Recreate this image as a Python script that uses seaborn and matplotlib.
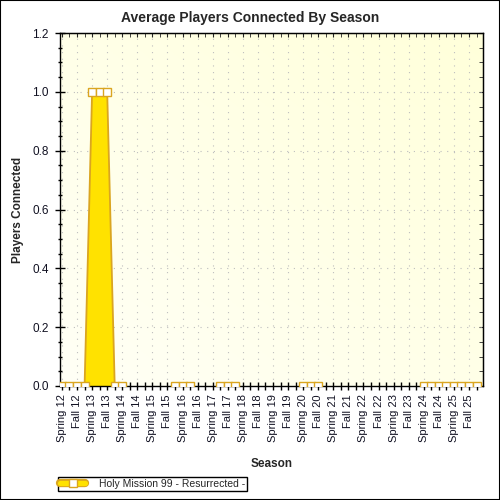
import numpy as np
import pandas as pd
import matplotlib
matplotlib.use("Agg")
import matplotlib.pyplot as plt
import seaborn as sns
from matplotlib.lines import Line2D
from matplotlib.patches import Rectangle
from matplotlib.ticker import MultipleLocator
from matplotlib.legend_handler import HandlerTuple

seasons = ["Spring 12", "Fall 12", "Spring 13", "Fall 13", "Spring 14", "Fall 14",
           "Spring 15", "Fall 15", "Spring 16", "Fall 16", "Spring 17", "Fall 17",
           "Spring 18", "Fall 18", "Spring 19", "Fall 19", "Spring 20", "Fall 20",
           "Spring 21", "Fall 21", "Spring 22", "Fall 22", "Spring 23", "Fall 23",
           "Spring 24", "Fall 24", "Spring 25", "Fall 25"]

# one reading every half season, NaN = no data (line is broken there)
nan = np.nan
players = [0, 0, 0, 0, 1, 1, 1, 0, 0,
           nan, nan, nan, nan, nan, nan,
           0, 0, 0,
           nan, nan, nan,
           0, 0, 0,
           nan, nan, nan, nan, nan, nan, nan, nan,
           0, 0, 0,
           nan, nan, nan, nan, nan, nan, nan, nan, nan, nan, nan, nan, nan,
           0, 0, 0, 0, 0, 0, 0, 0]

series_name = "Holy Mission 99 - Resurrected -"

gold_edge = "#DAA520"
gold_fill = "#FFE200"

sns.set_style("ticks")
plt.rcParams["font.family"] = ["Liberation Sans", "DejaVu Sans"]

df = pd.DataFrame({"pos": np.arange(len(players)) / 2, "players": players})
df["segment"] = df["players"].isna().cumsum()
pts = df.dropna()

fig = plt.figure(figsize=(5, 5), dpi=100)
ax = fig.add_axes([0.12, 0.228, 0.846, 0.706])

# soft yellow background
grad = np.linspace(0, 1, 256)
bg = np.add.outer(grad[::-1], grad) / 2
ax.imshow(bg, extent=[0, 1, 0, 1], transform=ax.transAxes, aspect="auto",
          cmap=matplotlib.colors.LinearSegmentedColormap.from_list("bg", ["#FFFFF6", "#FFFFDA"]),
          zorder=0)

ax.fill_between(df["pos"], df["players"], color=gold_fill, lw=0, zorder=2)
sns.lineplot(data=pts, x="pos", y="players", units="segment", estimator=None,
             color=gold_edge, lw=1.3, marker="s", markersize=5.2,
             markerfacecolor="white", markeredgecolor=gold_edge, markeredgewidth=1,
             legend=False, ax=ax, zorder=3)

ax.set_xlim(-0.13, 27.93)
ax.set_ylim(0, 1.2)
ax.set_xticks(range(len(seasons)))
ax.set_xticklabels(seasons, rotation=90, fontsize=8)
ax.xaxis.set_minor_locator(MultipleLocator(0.5))
ax.yaxis.set_major_locator(MultipleLocator(0.2))
ax.yaxis.set_minor_locator(MultipleLocator(0.05))
ax.yaxis.set_major_formatter(matplotlib.ticker.FormatStrFormatter("%.1f"))
for lab in ax.get_yticklabels():
    lab.set_fontsize(8.5)

ax.tick_params(axis="x", which="both", direction="inout", length=6, width=1, pad=3, colors="black")
ax.tick_params(axis="y", which="major", direction="inout", length=6.5, width=1, pad=5, colors="black")
ax.tick_params(axis="y", which="minor", direction="inout", length=3.5, width=1, colors="black")
for lab in ax.get_xticklabels() + ax.get_yticklabels():
    lab.set_color("#111122")

top = ax.secondary_xaxis("top")
top.set_xticks(range(len(seasons)))
top.xaxis.set_minor_locator(MultipleLocator(0.5))
top.tick_params(which="both", direction="in", length=3, labeltop=False)
right = ax.secondary_yaxis("right")
right.yaxis.set_major_locator(MultipleLocator(0.2))
right.yaxis.set_minor_locator(MultipleLocator(0.05))
right.tick_params(which="both", direction="in", length=3, labelright=False)

ax.grid(True, which="major", color="#BEBEBE", linestyle=(0, (1, 5)), lw=0.8)
ax.set_axisbelow(True)
for s in ax.spines.values():
    s.set_color("black")
    s.set_linewidth(1)

ax.set_xlabel("Season", fontsize=8.5, fontweight="bold")
ax.xaxis.set_label_coords(0.5, -0.205)
ax.set_ylabel("Players Connected", fontsize=8.5, fontweight="bold")
ax.yaxis.set_label_coords(-0.086, 0.5)
fig.suptitle("Average Players Connected By Season", fontsize=10, fontweight="bold",
             x=0.5, y=0.964, va="center")

handle = (Line2D([], [], color=gold_edge, lw=6),
          Line2D([], [], color=gold_fill, lw=3.8),
          Line2D([], [], color=gold_edge, lw=0, marker="s", markersize=5.2,
                 markerfacecolor="white", markeredgewidth=1))
leg = fig.legend([handle], [series_name], handler_map={tuple: HandlerTuple(ndivide=1)},
                 loc="upper left", bbox_to_anchor=(0.116, 0.047), fontsize=7.5,
                 frameon=True, fancybox=False, edgecolor="black", framealpha=1,
                 borderpad=0.2, handlelength=2.4, handletextpad=1.3, borderaxespad=0)
leg.get_frame().set_linewidth(1)

fig.patches.append(Rectangle((0, 0), 1, 1, transform=fig.transFigure, fill=False,
                             edgecolor="black", lw=1.5))

fig.savefig("out.png", dpi=100, facecolor="white")
